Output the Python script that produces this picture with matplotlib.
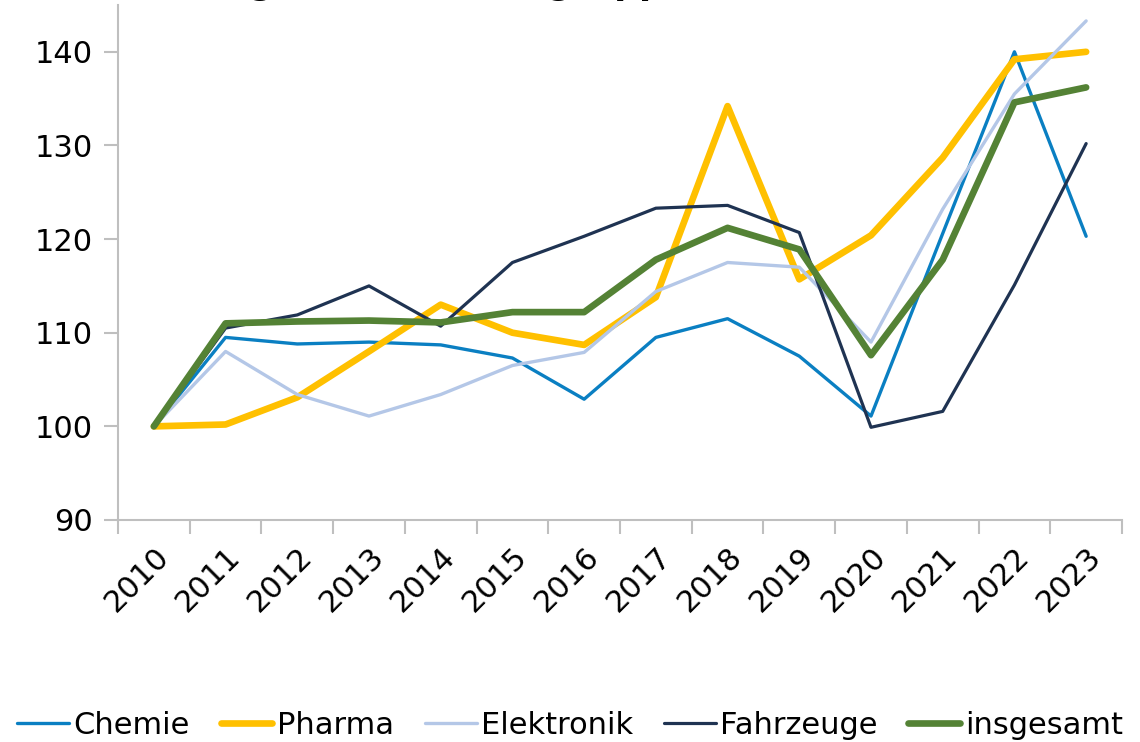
import numpy as np
import matplotlib.pyplot as plt
from matplotlib.ticker import FixedLocator, NullFormatter

# --- Data (index, 2010 = 100) ---
years = ['2010', '2011', '2012', '2013', '2014', '2015', '2016',
         '2017', '2018', '2019', '2020', '2021', '2022', '2023']

chemie = [100.0, 109.5, 108.8, 109.0, 108.7, 107.3, 102.9,
          109.5, 111.5, 107.5, 101.1, 120.6, 140.0, 120.3]
pharma = [100.0, 100.2, 103.1, 108.0, 113.0, 110.0, 108.7,
          113.8, 134.2, 115.7, 120.4, 128.7, 139.2, 140.0]
elektronik = [100.0, 108.0, 103.4, 101.1, 103.4, 106.5, 107.9,
              114.4, 117.5, 117.0, 109.0, 123.2, 135.5, 143.3]
fahrzeuge = [100.0, 110.5, 111.9, 115.0, 110.7, 117.5, 120.3,
             123.3, 123.6, 120.7, 99.9, 101.6, 115.1, 130.2]
insgesamt = [100.0, 111.0, 111.2, 111.3, 111.1, 112.2, 112.2,
             117.8, 121.2, 118.9, 107.6, 117.8, 134.6, 136.2]

series = [
    ('Chemie', chemie, '#0A7FC2', 2.4),
    ('Pharma', pharma, '#FFC000', 4.8),
    ('Elektronik', elektronik, '#B4C7E7', 2.4),
    ('Fahrzeuge', fahrzeuge, '#1F3352', 2.3),
    ('insgesamt', insgesamt, '#548235', 4.8),
]

plt.rcParams['font.family'] = ['DejaVu Sans']

fig = plt.figure(figsize=(11.4, 7.42), dpi=100)
ax = fig.add_axes([118 / 1140, 1 - 520 / 742, (1122 - 118) / 1140, (520 - 5) / 742])

x = np.arange(len(years))
for name, vals, color, lw in series:
    ax.plot(x, vals, color=color, linewidth=lw, label=name,
            solid_capstyle='round', solid_joinstyle='round')

ax.set_xlim(-0.5, len(years) - 0.5)
ax.set_ylim(90, 145)
ax.set_yticks([90, 100, 110, 120, 130, 140])

# category labels at centres, tick marks at boundaries
ax.set_xticks(x)
ax.set_xticklabels(years, rotation=45, ha='right', rotation_mode='anchor')
ax.xaxis.set_minor_locator(FixedLocator(np.arange(-0.5, len(years), 1.0)))
ax.xaxis.set_minor_formatter(NullFormatter())
ax.tick_params(axis='x', which='major', length=0, pad=16, labelsize=22)
ax.tick_params(axis='x', which='minor', length=10, width=1.5, color='#BFBFBF')
ax.tick_params(axis='y', length=10, width=1.5, color='#BFBFBF', labelsize=22, pad=8)

for side in ['top', 'right']:
    ax.spines[side].set_visible(False)
for side in ['left', 'bottom']:
    ax.spines[side].set_color('#BFBFBF')
    ax.spines[side].set_linewidth(1.5)

# title, cut off at the top edge like the source (only descenders visible)
fig.text(978 / 1140, 1 + 6 / 742, 'Entwicklung nach Produktgruppen (2010 = 100)',
         ha='right', va='baseline', fontsize=25, fontweight='bold')

fig.legend(loc='center', bbox_to_anchor=(0.5, 0.022), ncol=5, frameon=False,
           fontsize=22, handlelength=1.7, handletextpad=0.15, columnspacing=1.0,
           borderaxespad=0)

fig.savefig('out.png', dpi=100)
plt.close()
